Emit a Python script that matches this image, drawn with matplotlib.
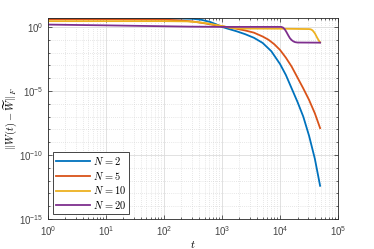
import numpy as np
import matplotlib
matplotlib.use("Agg")
import matplotlib.pyplot as plt
from matplotlib.ticker import LogLocator, NullFormatter

# values, as log10(t) and log10(error)
logt_n2 = [0, 1, 2, 2.3, 2.5, 2.65, 2.8, 2.9, 3.0, 3.1, 3.25, 3.4, 3.55, 3.7,
           3.85, 4.0, 4.1, 4.2, 4.3, 4.4, 4.5, 4.6, 4.69]
loge_n2 = [0.66, 0.66, 0.66, 0.65, 0.63, 0.55, 0.38, 0.2, 0.0, -0.14, -0.34, -0.57,
           -0.85, -1.25, -1.9, -2.9, -3.75, -4.8, -5.85, -7.0, -8.5, -10.3, -12.4]

logt_n5 = [0, 1, 2, 2.3, 2.5, 2.7, 2.85, 3.0, 3.2, 3.4, 3.55, 3.7, 3.8, 3.9,
           4.0, 4.1, 4.2, 4.3, 4.4, 4.5, 4.6, 4.69]
loge_n5 = [0.6, 0.6, 0.57, 0.5, 0.42, 0.28, 0.16, 0.05, -0.1, -0.28, -0.45, -0.75,
           -1.0, -1.35, -1.8, -2.4, -3.1, -3.95, -4.8, -5.7, -6.75, -7.9]

logt_n10 = [0, 2, 2.4, 2.6, 2.75, 2.9, 3.0, 3.1, 3.2, 3.35, 4.0, 4.5, 4.53, 4.56,
            4.6, 4.64, 4.67, 4.69]
loge_n10 = [0.45, 0.45, 0.43, 0.36, 0.27, 0.15, 0.07, -0.03, -0.1, -0.13, -0.14,
            -0.17, -0.19, -0.27, -0.5, -0.85, -1.08, -1.2]

logt_n20 = [0, 0.5, 1, 2, 2.45, 3.0, 4.02, 4.05, 4.08, 4.11, 4.14, 4.17, 4.2,
            4.23, 4.26, 4.3, 4.69]
loge_n20 = [0.18, 0.15, 0.12, 0.05, 0.02, 0.0, 0.0, -0.05, -0.18, -0.4, -0.65,
            -0.88, -1.03, -1.13, -1.19, -1.22, -1.23]

labels = [r"$N\,{=}2$", r"$N\,{=}5$", r"$N\,{=}10$", r"$N\,{=}20$"]
colors = ["#0072BD", "#D95319", "#EDB120", "#7E2F8E"]

plt.rcParams["font.family"] = ["Liberation Sans", "DejaVu Sans"]
plt.rcParams["mathtext.fontset"] = "cm"

fig = plt.figure(figsize=(3.74, 2.49), dpi=100)
ax = fig.add_axes([0.128, 0.12, 0.776, 0.808])

series = [(logt_n2, loge_n2), (logt_n5, loge_n5), (logt_n10, loge_n10), (logt_n20, loge_n20)]
for (lt, le), lab, c in zip(series, labels, colors):
    ax.plot(10 ** np.array(lt), 10 ** np.array(le), color=c, lw=1.3, label=lab)

ax.set_xscale("log")
ax.set_yscale("log")
ax.set_xlim(1, 1e5)
ax.set_ylim(1e-15, 10 ** 0.7)

ax.set_yticks([1e-15, 1e-10, 1e-5, 1e0])
ax.set_yticks([10.0 ** k for k in range(-15, 1)], minor=True)
ax.yaxis.set_minor_formatter(NullFormatter())
ax.xaxis.set_minor_locator(LogLocator(base=10, subs=np.arange(2, 10), numticks=20))
ax.xaxis.set_minor_formatter(NullFormatter())

ax.grid(True, which="major", color="#dcdcdc", lw=0.6, ls="-")
ax.grid(True, which="minor", color="#d0d0d0", lw=0.5, ls=(0, (1, 2)))
ax.set_axisbelow(True)

for s in ax.spines.values():
    s.set_color("#262626")
    s.set_linewidth(0.6)
ax.tick_params(which="both", direction="in", top=True, right=True,
               colors="#262626", labelsize=7, width=0.5)
ax.tick_params(which="major", length=3)
ax.tick_params(which="minor", length=1.5)
for lbl in ax.get_xticklabels() + ax.get_yticklabels():
    lbl.set_color("#444444")

ax.set_xlabel(r"$t$", fontsize=8, labelpad=1)
ax.set_ylabel(r"$||W(t) - \widetilde{W}||_F$", fontsize=7.5, labelpad=0)

leg = ax.legend(loc="lower left", fontsize=7.5, handlelength=3.2, handletextpad=0.3,
                borderpad=0.3, labelspacing=0.25, fancybox=False, framealpha=1,
                edgecolor="#262626", borderaxespad=0.5)
leg.get_frame().set_linewidth(0.6)

fig.savefig("out.png", dpi=100)
